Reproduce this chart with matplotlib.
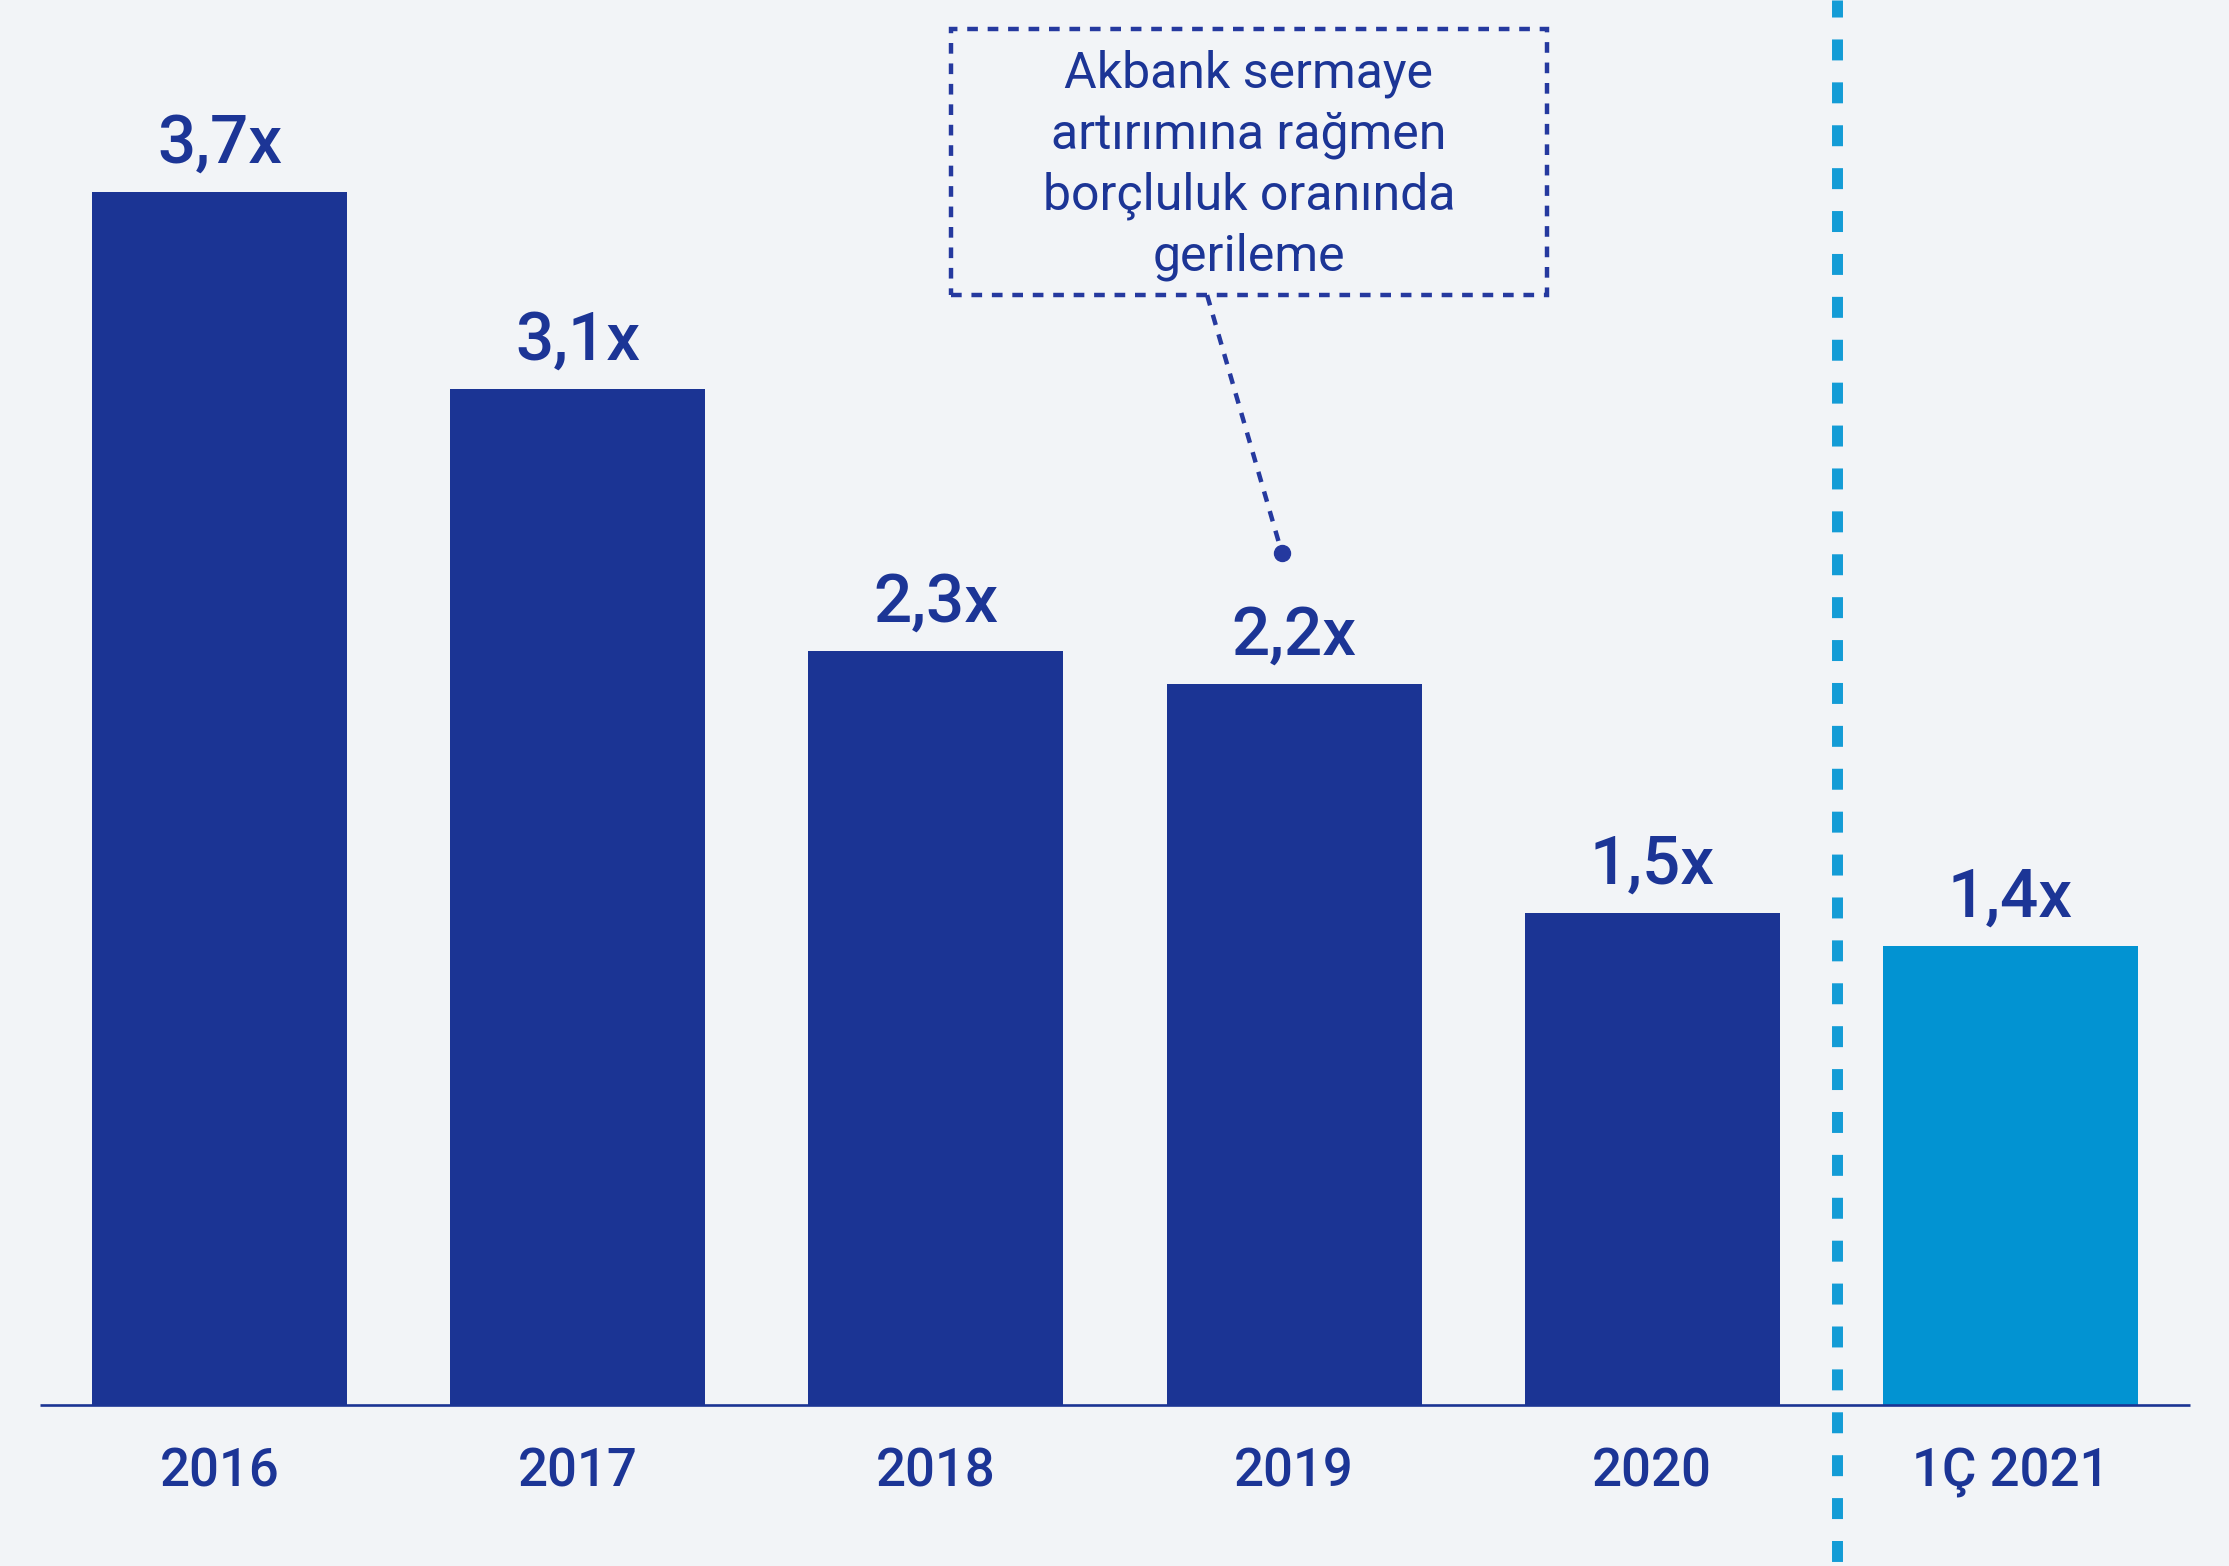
import matplotlib
matplotlib.use('Agg')
import matplotlib.pyplot as plt
from matplotlib.patches import Rectangle

# debt / equity multiples by period
periods = ['2016', '2017', '2018', '2019', '2020', '1Ç 2021']
values = [3.7, 3.1, 2.3, 2.2, 1.5, 1.4]
value_labels = ['3,7x', '3,1x', '2,3x', '2,2x', '1,5x', '1,4x']
note_lines = ['Akbank sermaye', 'artırımına rağmen', 'borçluluk oranında', 'gerileme']

DARK = '#1b3494'
LIGHT = '#0293d2'
TEXT = '#1c3596'
BG = '#f2f4f7'

plt.rcParams['font.family'] = ['Roboto', 'DejaVu Sans']

fig = plt.figure(figsize=(22.29, 15.66), dpi=100, facecolor=BG)
ax = fig.add_axes([0, 0, 1, 1])
ax.set_facecolor(BG)
ax.set_xlim(-0.613, 5.610)
ax.set_ylim(-0.491, 4.285)
ax.axis('off')

x = list(range(len(periods)))
colors = [DARK] * 5 + [LIGHT]
ax.bar(x, values, width=0.712, color=colors, zorder=2)
ax.hlines(0, -0.5, 5.5, color=DARK, lw=1.9, zorder=3)

for xi, v, lab, p in zip(x, values, value_labels, periods):
    ax.annotate(lab, (xi, v), xytext=(0, 21), textcoords='offset points',
                ha='center', va='baseline', fontsize=48.5, fontweight=500, color=TEXT)
    ax.text(xi, -0.25, p, ha='center', va='baseline', fontsize=38,
            fontweight=500, color=TEXT)

# separator between annual and quarterly figures
ax.plot([4.515, 4.515], [4.285, -0.491], color='#149cd6', lw=7.9,
        linestyle=(0.36, (1.91, 2.0)), solid_capstyle='butt', dash_capstyle='butt', zorder=1)

# callout box with leader line
box_l, box_r, box_b, box_t = 2.042, 3.706, 3.385, 4.196
ax.add_patch(Rectangle((box_l, box_b), box_r - box_l, box_t - box_b, fill=False,
                       edgecolor='#25399f', lw=3.2, linestyle=(0, (2.4, 2.2)), zorder=4))
cx = (box_l + box_r) / 2
for i, line in enumerate(note_lines):
    ax.text(cx, 4.019 - i * 0.186, line, ha='center', va='baseline', fontsize=36,
            color=TEXT, zorder=5)
ax.plot([2.757, 2.966], [box_b, 2.598], color='#25399f', lw=3.2,
        linestyle=(0, (2.4, 2.2)), dash_capstyle='butt', zorder=4)
ax.plot([2.966], [2.598], 'o', color='#25399f', markersize=11.5, zorder=5)

fig.savefig('out.png', dpi=100, facecolor=BG)
